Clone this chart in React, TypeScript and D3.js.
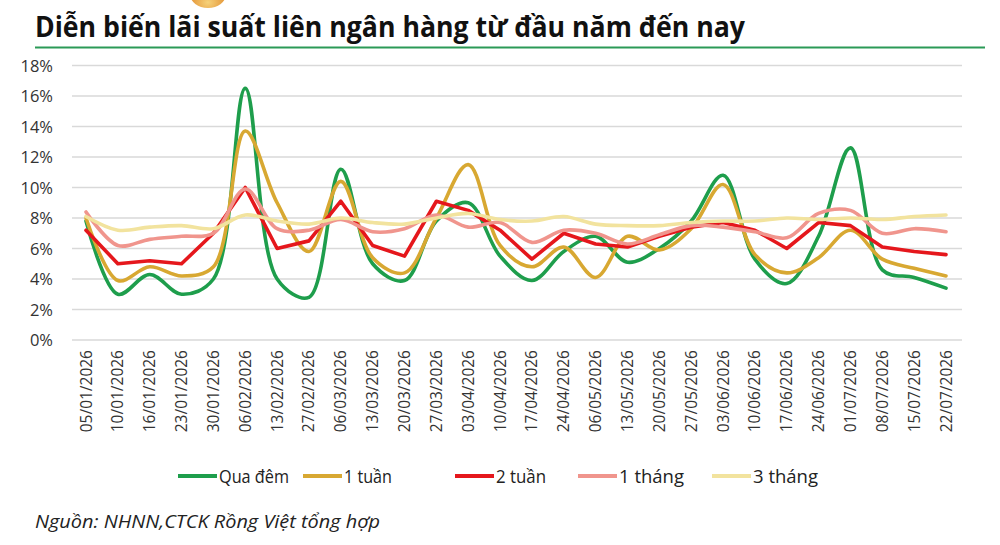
import React from "react";
import * as d3 from "d3";

const dates = [
  "05/01/2026", "10/01/2026", "16/01/2026", "23/01/2026", "30/01/2026", "06/02/2026", "13/02/2026",
  "27/02/2026", "06/03/2026", "13/03/2026", "20/03/2026", "27/03/2026", "03/04/2026", "10/04/2026",
  "17/04/2026", "24/04/2026", "06/05/2026", "13/05/2026", "20/05/2026", "27/05/2026", "03/06/2026",
  "10/06/2026", "17/06/2026", "24/06/2026", "01/07/2026", "08/07/2026", "15/07/2026", "22/07/2026",
];

const quaDem = [7.8, 3.0, 4.3, 3.0, 4.0, 16.5, 4.0, 2.8, 11.2, 5.0, 3.9, 7.8, 9.0, 5.5, 3.9, 5.8, 6.8, 5.1, 6.0, 7.8, 10.8, 5.3, 3.7, 6.8, 12.6, 4.6, 4.1, 3.4];
const motTuan = [8.0, 3.9, 4.8, 4.2, 4.8, 13.7, 9.0, 5.8, 10.4, 5.4, 4.4, 8.0, 11.5, 6.2, 4.8, 6.1, 4.1, 6.8, 5.9, 7.3, 10.2, 5.6, 4.4, 5.4, 7.2, 5.3, 4.7, 4.2];
const haiTuan = [7.2, 5.0, 5.2, 5.0, 7.0, 10.0, 6.0, 6.5, 9.1, 6.2, 5.5, 9.1, 8.5, 7.2, 5.3, 7.0, 6.3, 6.1, 6.8, 7.4, 7.7, 7.2, 6.0, 7.7, 7.5, 6.1, 5.8, 5.6];
const motThang = [8.4, 6.2, 6.6, 6.8, 7.0, 9.9, 7.3, 7.2, 7.9, 7.1, 7.3, 8.2, 7.4, 7.7, 6.4, 7.2, 7.0, 6.3, 6.9, 7.5, 7.4, 7.1, 6.7, 8.3, 8.5, 7.0, 7.3, 7.1];
const baThang = [8.1, 7.2, 7.4, 7.5, 7.3, 8.2, 7.8, 7.6, 8.0, 7.7, 7.6, 8.0, 8.3, 7.9, 7.8, 8.1, 7.6, 7.5, 7.5, 7.7, 7.8, 7.8, 8.0, 7.9, 8.0, 7.9, 8.1, 8.2];

const yTicks = [0, 2, 4, 6, 8, 10, 12, 14, 16, 18];

const seriesNames = ["Qua đêm", "1 tuần", "2 tuần", "1 tháng", "3 tháng"];
const seriesValues = [quaDem, motTuan, haiTuan, motThang, baThang];
const seriesColors = ["#1e9e4c", "#d8a832", "#e5171c", "#f0958d", "#f2e39e"];
const seriesSmooth = [true, true, false, true, true];

const title = "Diễn biến lãi suất liên ngân hàng từ đầu năm đến nay";
const source = "Nguồn: NHNN,CTCK Rồng Việt tổng hợp";

export default function App() {
  const x = d3.scalePoint<string>().domain(dates).range([86, 946]);
  const y = d3.scaleLinear().domain([0, 18]).range([340, 65.5]);

  const legendX = [178, 303, 455, 578, 712];
  const legendTextW = [70, 48, 50, 65, 65];

  return (
    <div style={{ position: "absolute", left: 0, top: 0 }}>
      <svg width={1000} height={545} style={{ display: "block", background: "#fff" }}>
        <defs>
          <radialGradient id="logo" cx="50%" cy="80%" r="60%">
            <stop offset="0%" stopColor="#f6d27a" />
            <stop offset="100%" stopColor="#e0892a" />
          </radialGradient>
        </defs>
        <ellipse cx={208} cy={-6} rx={18} ry={14} fill="url(#logo)" />
        <text
          x={35}
          y={37}
          fontFamily="'Liberation Sans Narrow', 'Open Sans', Roboto, sans-serif"
          fontWeight={700}
          fontSize={28}
          fill="#111"
          textLength={710}
          lengthAdjust="spacingAndGlyphs"
        >
          {title}
        </text>
        <line x1={35} x2={985} y1={47.5} y2={47.5} stroke="#2b9a57" strokeWidth={2} />

        {yTicks.map((t) => (
          <g key={t}>
            <line x1={72} x2={962} y1={y(t)} y2={y(t)} stroke="#d9d9d9" strokeWidth={1.6} />
            <text
              x={53}
              y={y(t) + 6}
              textAnchor="end"
              fontFamily="'Open Sans', sans-serif"
              fontSize={16.5}
              fill="#333"
            >
              {t}%
            </text>
          </g>
        ))}

        {dates.map((d) => (
          <text
            key={d}
            transform={`translate(${(x(d) as number) + 5.5},350) rotate(-90)`}
            textAnchor="end"
            fontFamily="'Open Sans', sans-serif"
            fontSize={15.5}
            fill="#333"
          >
            {d}
          </text>
        ))}

        {seriesValues.map((vals, si) => {
          const line = d3
            .line<number>()
            .x((_, i) => x(dates[i]) as number)
            .y((v) => y(v))
            .curve(seriesSmooth[si] ? d3.curveCatmullRom.alpha(0.5) : d3.curveLinear);
          return (
            <path
              key={seriesNames[si]}
              d={line(vals) || ""}
              fill="none"
              stroke={seriesColors[si]}
              strokeWidth={3.6}
              strokeLinejoin="round"
              strokeLinecap="round"
            />
          );
        })}

        {seriesNames.map((n, i) => (
          <g key={n}>
            <line x1={legendX[i]} x2={legendX[i] + 39} y1={476} y2={476} stroke={seriesColors[i]} strokeWidth={4} />
            <text
              x={legendX[i] + 41}
              y={482.5}
              fontFamily="'Liberation Sans Narrow', 'Open Sans', sans-serif"
              fontSize={18}
              fill="#222"
              textLength={legendTextW[i]}
              lengthAdjust="spacingAndGlyphs"
            >
              {n}
            </text>
          </g>
        ))}

        <text
          x={35}
          y={528}
          fontFamily="'Liberation Sans Narrow', 'Open Sans', sans-serif"
          fontStyle="italic"
          fontSize={19}
          fill="#222"
          textLength={345}
          lengthAdjust="spacingAndGlyphs"
        >
          {source}
        </text>
      </svg>
    </div>
  );
}
